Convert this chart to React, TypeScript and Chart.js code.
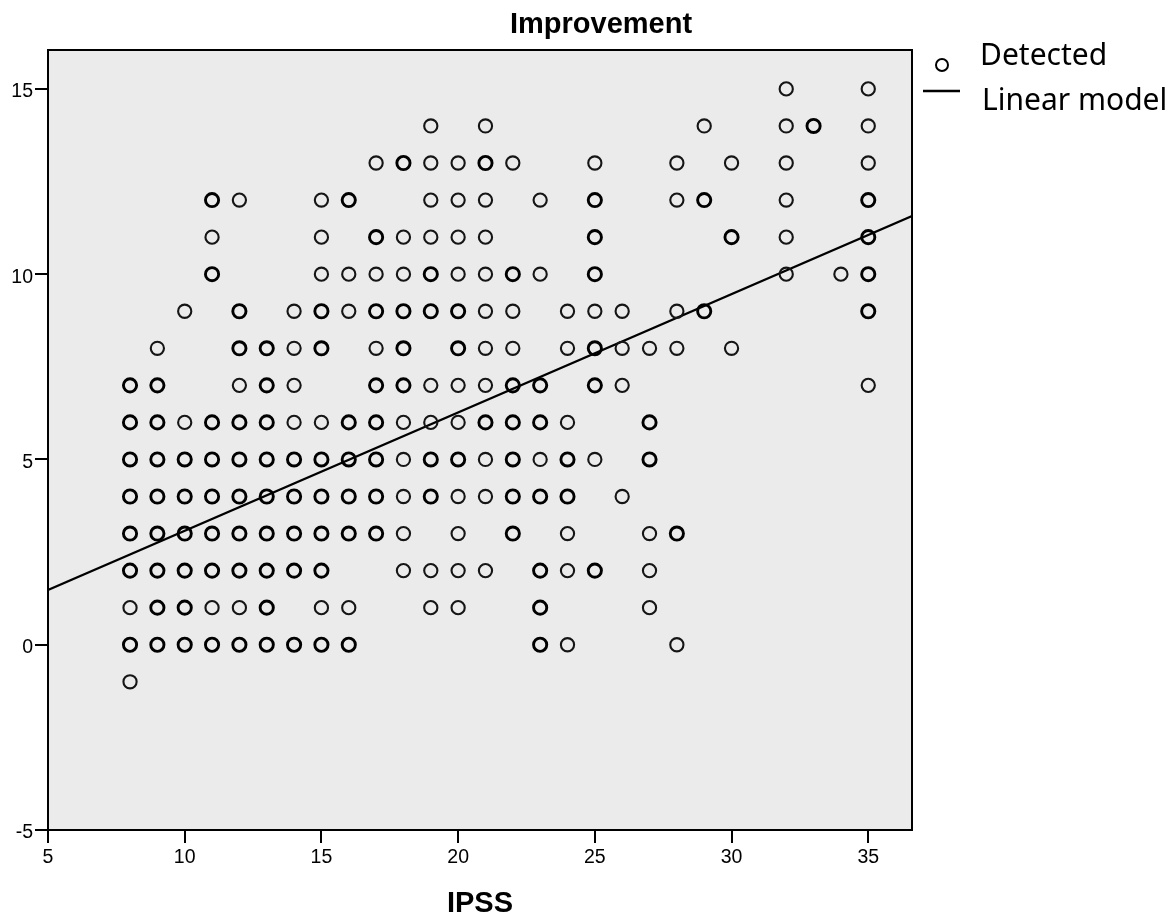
import React, { useEffect, useRef } from "react";
import { Chart, registerables } from "chart.js";

Chart.register(...registerables);

// ---- text ----
const chartTitle = "Improvement";
const xAxisTitle = "IPSS";
const seriesLabels = ["Detected", "Linear model"];

// ---- axes ----
const xTicks = [5, 10, 15, 20, 25, 30, 35];
const yTicks = [-5, 0, 5, 10, 15];
const xRange = [5, 36.6];
const yRange = [-5, 16.05];

// ---- data: one column of Improvement values per IPSS score ----
const ipss = [8, 9, 10, 11, 12, 13, 14, 15, 16, 17, 18, 19, 20, 21, 22, 23, 24, 25, 26, 27, 28, 29, 30, 32, 33, 34, 35];
const improvement = [
  [-1, 0, 1, 2, 3, 4, 5, 6, 7],
  [0, 1, 2, 3, 4, 5, 6, 7, 8],
  [0, 1, 2, 3, 4, 5, 6, 9],
  [0, 1, 2, 3, 4, 5, 6, 10, 11, 12],
  [0, 1, 2, 3, 4, 5, 6, 7, 8, 9, 12],
  [0, 1, 2, 3, 4, 5, 6, 7, 8],
  [0, 2, 3, 4, 5, 6, 7, 8, 9],
  [0, 1, 2, 3, 4, 5, 6, 8, 9, 10, 11, 12],
  [0, 1, 3, 4, 5, 6, 9, 10, 12],
  [3, 4, 5, 6, 7, 8, 9, 10, 11, 13],
  [2, 3, 4, 5, 6, 7, 8, 9, 10, 11, 13],
  [1, 2, 4, 5, 6, 7, 9, 10, 11, 12, 13, 14],
  [1, 2, 3, 4, 5, 6, 7, 8, 9, 10, 11, 12, 13],
  [2, 4, 5, 6, 7, 8, 9, 10, 11, 12, 13, 14],
  [3, 4, 5, 6, 7, 8, 9, 10, 13],
  [0, 1, 2, 4, 5, 6, 7, 10, 12],
  [0, 2, 3, 4, 5, 6, 8, 9],
  [2, 5, 7, 8, 9, 10, 11, 12, 13],
  [4, 7, 8, 9],
  [1, 2, 3, 5, 6, 8],
  [0, 3, 8, 9, 12, 13],
  [9, 12, 14],
  [8, 11, 13],
  [10, 11, 12, 13, 14, 15],
  [14],
  [10],
  [7, 9, 10, 11, 12, 13, 14, 15],
];
// values that occur more than once in a column (drawn heavier)
const repeated = [
  [0, 2, 3, 4, 5, 6, 7],
  [0, 1, 2, 3, 4, 5, 6, 7],
  [0, 1, 2, 3, 4, 5],
  [0, 2, 3, 4, 5, 6, 10, 12],
  [0, 2, 3, 4, 5, 6, 8, 9],
  [0, 1, 2, 3, 4, 5, 6, 7, 8],
  [0, 2, 3, 4, 5],
  [0, 2, 3, 4, 5, 8, 9],
  [0, 3, 4, 5, 6, 12],
  [3, 4, 5, 6, 7, 9, 11],
  [7, 8, 9, 13],
  [4, 5, 9, 10],
  [5, 8, 9],
  [6, 13],
  [3, 4, 5, 6, 7, 10],
  [0, 1, 2, 4, 6, 7],
  [4, 5],
  [2, 7, 8, 10, 11, 12],
  [],
  [5, 6],
  [3],
  [9, 12],
  [11],
  [],
  [14],
  [],
  [9, 10, 11, 12],
];

// ---- linear model end points ----
const fitX = [5, 36.6];
const fitY = [1.48, 11.57];

const SANS = '"Liberation Sans", Arial, sans-serif';

const decorPlugin = {
  id: "decor",
  beforeDraw(chart: any) {
    const { ctx, chartArea: a } = chart;
    ctx.save();
    ctx.fillStyle = "#ebebeb";
    ctx.fillRect(a.left, a.top, a.right - a.left, a.bottom - a.top);
    ctx.restore();
  },
  afterDatasetsDraw(chart: any) {
    const { ctx, chartArea: a } = chart;
    ctx.save();
    ctx.strokeStyle = "#000";
    ctx.lineWidth = 2;
    ctx.strokeRect(a.left, a.top, a.right - a.left, a.bottom - a.top);
    ctx.restore();
  },
  afterDraw(chart: any) {
    const { ctx, chartArea: a } = chart;
    const ds = chart.data.datasets;
    ctx.save();
    ctx.fillStyle = "#000";
    ctx.font = `bold 29px ${SANS}`;
    ctx.textAlign = "center";
    ctx.textBaseline = "alphabetic";
    ctx.fillText(chartTitle, 601, 33);

    const lx = a.right + 30;
    ctx.font = '30px "Noto Sans", sans-serif';
    ctx.textAlign = "left";
    // Detected
    ctx.strokeStyle = "#000";
    ctx.lineWidth = 2;
    ctx.beginPath();
    ctx.arc(lx, 65, 6, 0, Math.PI * 2);
    ctx.stroke();
    ctx.fillText(ds[0].label, a.right + 68, 65);
    // Linear model
    ctx.lineWidth = 2.5;
    ctx.beginPath();
    ctx.moveTo(a.right + 11, 91);
    ctx.lineTo(a.right + 48, 91);
    ctx.stroke();
    ctx.fillText(ds[1].label, a.right + 70, 110);
    ctx.restore();
  },
};

export default function App() {
  const canvasRef = useRef<HTMLCanvasElement | null>(null);

  useEffect(() => {
    if (!canvasRef.current) return;
    const points: any[] = [];
    ipss.forEach((x, i) => {
      improvement[i].forEach((y) => {
        points.push({ x, y, dense: repeated[i].includes(y) });
      });
    });
    const fitLine = fitX.map((x, i) => ({ x, y: fitY[i] }));

    const tickFont = { family: SANS, size: 19.5 };
    const axisGrid = {
      drawOnChartArea: false,
      drawTicks: true,
      tickLength: 13,
      color: "#000",
      tickColor: "#000",
      lineWidth: 2,
      tickWidth: 2,
    };

    const chart = new Chart(canvasRef.current, {
      type: "scatter",
      data: {
        datasets: [
          {
            label: seriesLabels[0],
            data: points,
            pointStyle: "circle",
            pointRadius: 6.6,
            pointHoverRadius: 6.6,
            backgroundColor: "rgba(0,0,0,0)",
            borderColor: (c: any) => (c.raw && c.raw.dense ? "#000" : "#151515"),
            pointBorderWidth: (c: any) => (c.raw && c.raw.dense ? 2.9 : 2.1),
            showLine: false,
          } as any,
          {
            type: "line",
            label: seriesLabels[1],
            data: fitLine,
            borderColor: "#000",
            borderWidth: 2.2,
            pointRadius: 0,
            fill: false,
            tension: 0,
          } as any,
        ],
      },
      options: {
        animation: false,
        responsive: true,
        maintainAspectRatio: false,
        layout: { padding: { top: 50, right: 264, bottom: 0, left: 0 } },
        plugins: {
          legend: { display: false },
          title: { display: false },
          tooltip: { enabled: false },
        },
        scales: {
          x: {
            type: "linear",
            min: xRange[0],
            max: xRange[1],
            afterBuildTicks: (s: any) => {
              s.ticks = xTicks.map((v) => ({ value: v }));
            },
            afterFit: (s: any) => {
              s.height = 87;
            },
            ticks: {
              font: tickFont,
              color: "#000",
              padding: 3,
              autoSkip: false,
              maxRotation: 0,
              minRotation: 0,
            },
            grid: axisGrid,
            border: { display: true, color: "#000", width: 2 },
            title: {
              display: true,
              text: xAxisTitle,
              color: "#000",
              font: { family: SANS, size: 29, weight: "bold", lineHeight: 0.875 },
              padding: { top: 0, bottom: 0 },
            },
          },
          y: {
            type: "linear",
            min: yRange[0],
            max: yRange[1],
            afterBuildTicks: (s: any) => {
              s.ticks = yTicks.map((v) => ({ value: v }));
            },
            afterFit: (s: any) => {
              s.width = 48;
            },
            ticks: {
              font: tickFont,
              color: "#000",
              padding: 2,
              labelOffset: 3,
              autoSkip: false,
            },
            grid: axisGrid,
            border: { display: true, color: "#000", width: 2 },
          },
        },
      } as any,
      plugins: [decorPlugin],
    });
    return () => chart.destroy();
  }, []);

  return (
    <div style={{ position: "absolute", left: 0, top: 0, width: 1176, height: 917, background: "#fff" }}>
      <canvas ref={canvasRef} />
    </div>
  );
}
